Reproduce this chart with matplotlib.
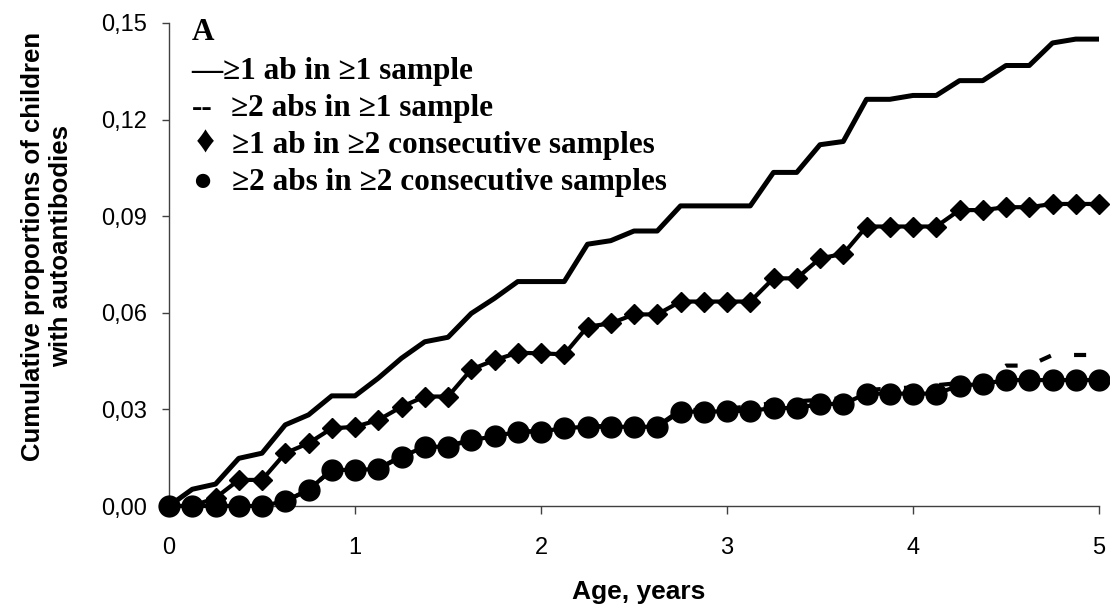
import matplotlib
matplotlib.use('Agg')
import matplotlib.pyplot as plt
import numpy as np

# age in years, one point every 1.5 months
age = np.arange(41) * 0.125

any_one = [0.0, 0.0052, 0.0068, 0.0148, 0.0164, 0.0252, 0.0283, 0.0342, 0.0342,
           0.0397, 0.0459, 0.0510, 0.0524, 0.0598, 0.0645, 0.0697, 0.0697,
           0.0697, 0.0813, 0.0824, 0.0854, 0.0854, 0.0932, 0.0932, 0.0932,
           0.0932, 0.1036, 0.1036, 0.1122, 0.1132, 0.1263, 0.1263, 0.1275,
           0.1275, 0.1321, 0.1321, 0.1368, 0.1368, 0.1438, 0.1450, 0.1450]

two_one = [0.0, 0.0, 0.0, 0.0, 0.0, 0.0015, 0.005, 0.0112, 0.0112,
           0.0116, 0.0155, 0.0185, 0.0185, 0.0207, 0.0217, 0.0232, 0.0232,
           0.0243, 0.0248, 0.0248, 0.0248, 0.0248, 0.0298, 0.0298, 0.0302,
           0.0310, 0.0320, 0.0325, 0.0330, 0.0335, 0.0360, 0.0365, 0.0368,
           0.0375, 0.0382, 0.0390, 0.0436, 0.0436, 0.0469, 0.0469, 0.0469]

any_two = [0.0, 0.0, 0.0025, 0.0081, 0.0081, 0.0164, 0.0195, 0.0241, 0.0246,
           0.0267, 0.0308, 0.0340, 0.0340, 0.0424, 0.0453, 0.0476, 0.0474,
           0.0471, 0.0557, 0.0567, 0.0595, 0.0595, 0.0635, 0.0635, 0.0635,
           0.0635, 0.0707, 0.0707, 0.0769, 0.0783, 0.0868, 0.0868, 0.0868,
           0.0868, 0.0919, 0.0919, 0.0928, 0.0928, 0.0938, 0.0938, 0.0938]

two_two = [0.0, 0.0, 0.0, 0.0, 0.0, 0.0015, 0.005, 0.0112, 0.0112,
           0.0115, 0.0153, 0.0184, 0.0184, 0.0205, 0.0216, 0.0231, 0.0231,
           0.0242, 0.0246, 0.0246, 0.0246, 0.0246, 0.0293, 0.0293, 0.0294,
           0.0296, 0.0304, 0.0304, 0.0317, 0.0317, 0.0349, 0.0349, 0.0349,
           0.0349, 0.0374, 0.0379, 0.0391, 0.0391, 0.0391, 0.0391, 0.0391]

x_ticks = [0, 1, 2, 3, 4, 5]
y_ticks = [0.0, 0.03, 0.06, 0.09, 0.12, 0.15]
y_ticklabels = ['0,00', '0,03', '0,06', '0,09', '0,12', '0,15']

legend_symbols = ['\u2014', '--', '\u2666', '\u25cf']
legend_texts = ['\u22651 ab in \u22651 sample',
                '\u22652 abs in \u22651 sample',
                '\u22651 ab in \u22652 consecutive samples',
                '\u22652 abs in \u22652 consecutive samples']

fig = plt.figure(figsize=(11.1, 6.11), dpi=100)
ax = fig.add_axes([169 / 1110, 1 - 506 / 611, 930 / 1110, 483 / 611])
ax.set_xlim(0, 5)
ax.set_ylim(0, 0.15)

# dash phase so that the visible dashes sit where they do in the original
dash_lw = 3.0
dash_on, dash_off = 2.9, 5.6
pix = ax.transData.transform(np.column_stack([age, two_one]))
seg = np.hypot(np.diff(pix[:, 0]), np.diff(pix[:, 1]))
cum = np.concatenate([[0], np.cumsum(seg)]) * 72 / fig.dpi
s_target = np.interp(4.53, age, cum)
period = (dash_on + dash_off) * dash_lw
offset = ((dash_on * dash_lw / 2 - s_target) % period) / dash_lw

ax.plot(age, any_one, color='black', lw=3.6, zorder=3)
ax.plot(age, two_one, color='black', lw=dash_lw,
        linestyle=(offset, (dash_on, dash_off)), dash_capstyle='butt', zorder=2)
ax.plot(age, any_two, color='black', lw=3.0, marker='D', markersize=10,
        zorder=4, clip_on=False)
ax.plot(age, two_two, color='black', lw=3.0, marker='o', markersize=15,
        zorder=5, clip_on=False)

ax.set_xticks(x_ticks)
ax.set_xticklabels([str(t) for t in x_ticks])
ax.set_yticks(y_ticks)
ax.set_yticklabels(y_ticklabels)

for s in ['top', 'right']:
    ax.spines[s].set_visible(False)
for s in ['left', 'bottom']:
    ax.spines[s].set_color('#404040')
    ax.spines[s].set_linewidth(1.0)

ax.tick_params(axis='x', length=6, width=1, color='#404040', pad=16)
ax.tick_params(axis='y', length=5, width=1, color='#404040', pad=11)
for lab in ax.get_xticklabels() + ax.get_yticklabels():
    lab.set_fontfamily('Liberation Sans')
    lab.set_fontsize(17)

fig.text(639 / 1110, 1 - 592 / 611, 'Age, years', family='Liberation Sans',
         fontweight='bold', fontsize=19, ha='center', va='center')
fig.text(47 / 1110, 1 - 246 / 611,
         'Cumulative proportions of children\nwith autoantibodies',
         family='Liberation Sans', fontweight='bold', fontsize=18.5,
         rotation=90, ha='center', va='center', multialignment='center',
         linespacing=1.25)

serif = ['Liberation Serif', 'DejaVu Sans']
fig.text(192 / 1110, 1 - 40 / 611, 'A', family=serif, fontweight='bold',
         fontsize=22.5, ha='left', va='baseline')
sym_x = [191, 192, 196, 192]
sym_size = [22.5, 22.5, 27, 24]
txt_x = [223, 231, 232, 232]
for i in range(4):
    yb = 1 - (79 + 37 * i) / 611
    fig.text(sym_x[i] / 1110, yb, legend_symbols[i], family=serif,
             fontweight='bold', fontsize=sym_size[i],
             ha='left', va='baseline')
    fig.text(txt_x[i] / 1110, yb, legend_texts[i], family=serif,
             fontweight='bold', fontsize=22.5, ha='left', va='baseline')

fig.savefig('out.png', dpi=100)
